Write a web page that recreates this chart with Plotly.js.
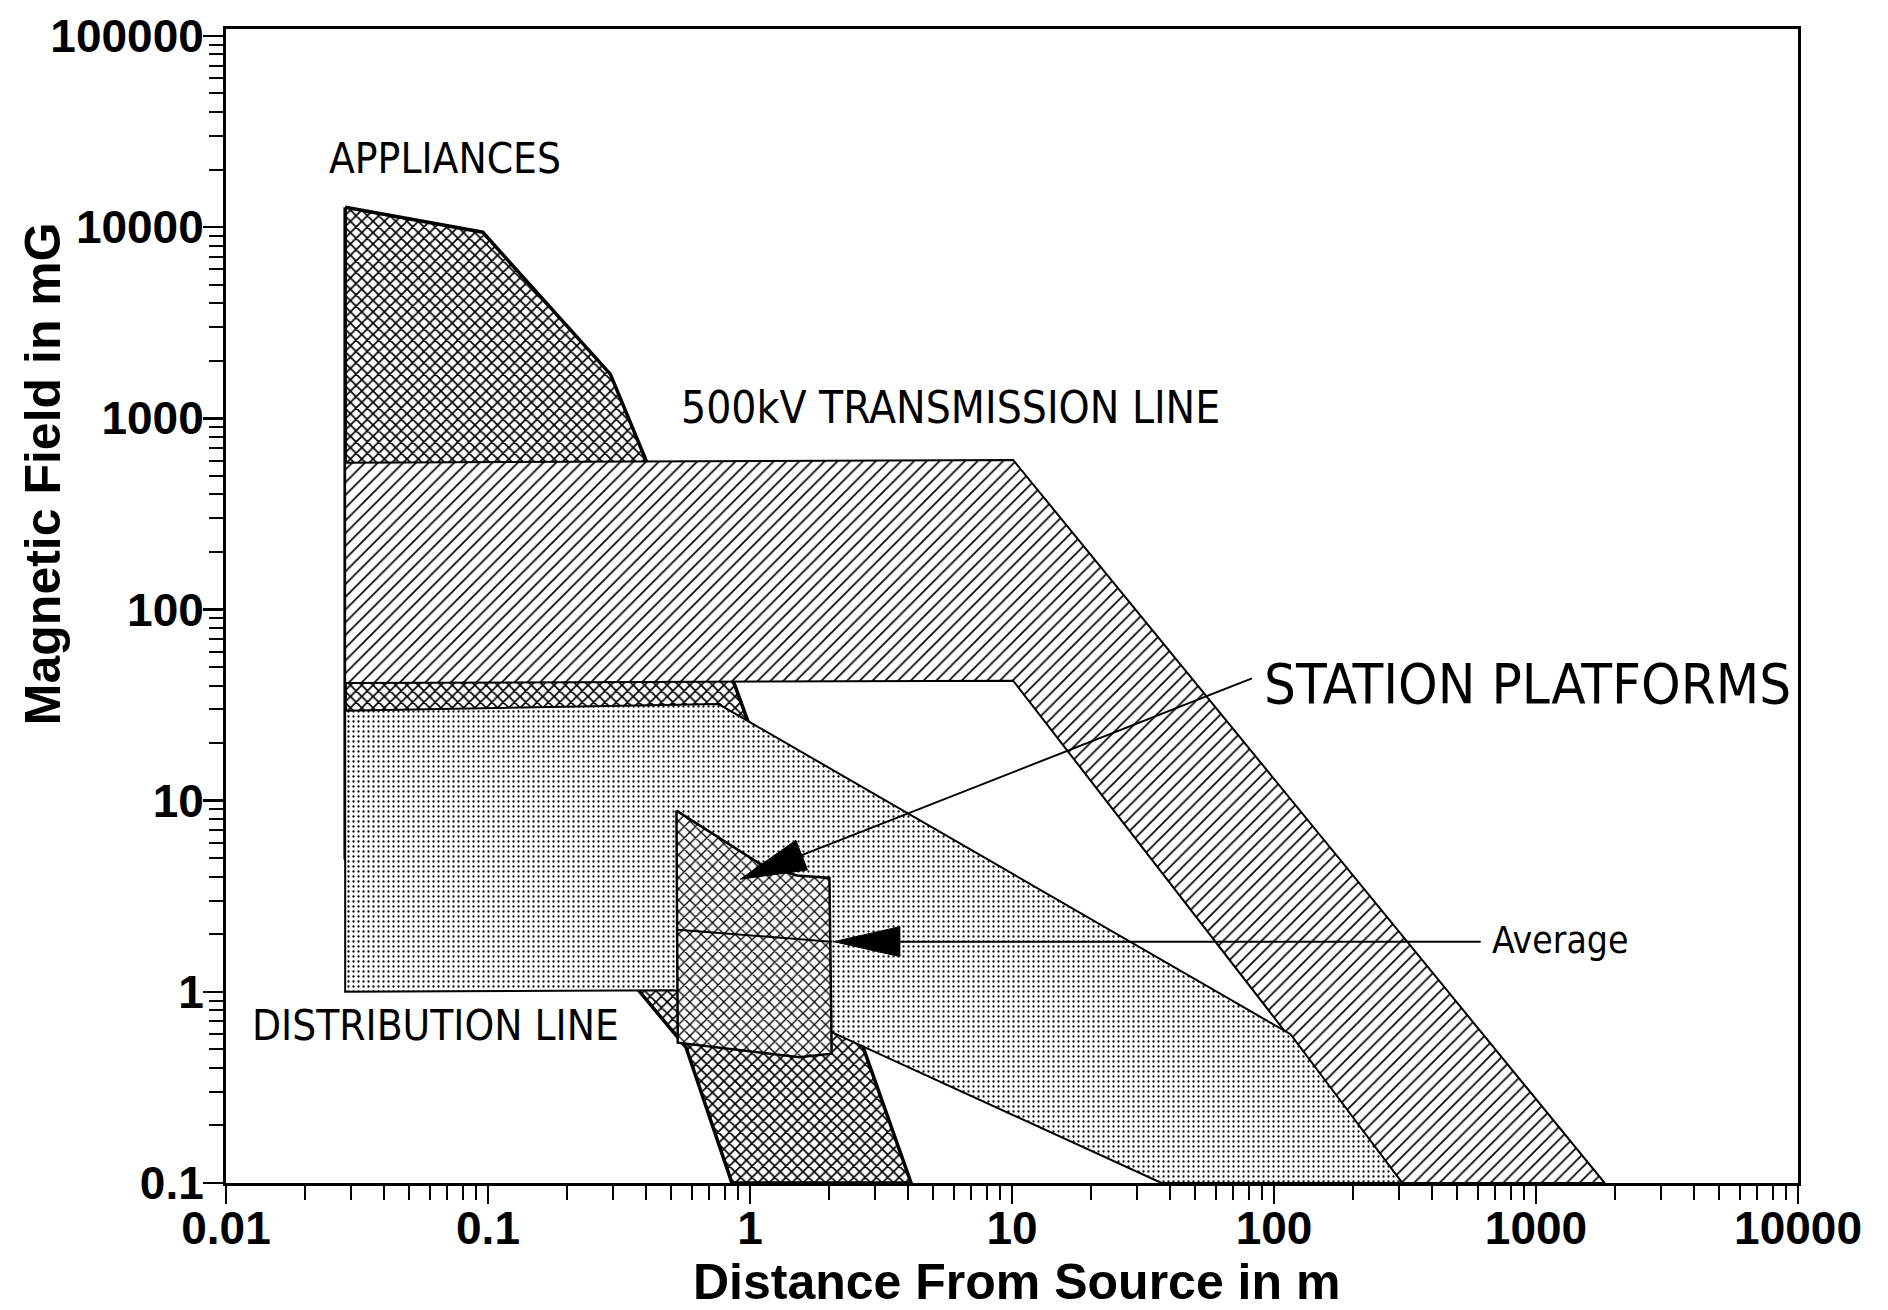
<!DOCTYPE html>
<html><head><meta charset="utf-8">
<script src="https://cdn.plot.ly/plotly-3.0.1.min.js"></script>
<style>html,body{margin:0;padding:0;background:#fff;}#chart{width:1888px;height:1310px;}</style>
</head><body><div id="chart"></div>
<script>
// ---- Data (distance in m, field in mG) ----
const appliancesX = [0.0285, 0.0955, 0.293, 0.403, 0.88, 1.01, 4.12, 0.853, 0.570, 0.373, 0.2, 0.0285, 0.0285];
const appliancesY = [12700, 9400, 1700, 592, 39.4, 23.4, 0.1, 0.1, 0.512, 1.03, 1.5, 5, 12700];
const transmissionX = [0.0285, 10.1, 1828, 309, 10.1, 0.0285, 0.0285];
const transmissionY = [585, 605, 0.1, 0.1, 42.4, 41.2, 585];
const distributionX = [0.0285, 0.758, 115.6, 309, 37.2, 2.09, 0.513, 0.0285, 0.0285];
const distributionY = [29.5, 32, 0.6, 0.1, 0.1, 0.608, 1.02, 1.0, 29.5];
const platformX = [0.524, 1.087, 1.51, 2.01, 2.05, 1.54, 0.530, 0.524];
const platformY = [8.87, 4.69, 4.06, 3.94, 0.475, 0.455, 0.542, 8.87];
const averageX = [0.530, 2.05];
const averageY = [2.11, 1.83];
// arrows: [tail, tip]
const stationArrowX = [82.4, 0.918];
const stationArrowY = [43.6, 3.88];
const averageArrowX = [615, 2.09];
const averageArrowY = [1.83, 1.83];
// labels
const labelText = ['APPLIANCES', '500kV TRANSMISSION LINE', 'STATION PLATFORMS', 'DISTRIBUTION LINE', 'Average'];
const labelX = [0.0687, 5.85, 929, 0.0631, 1236];
const labelY = [22750, 1135, 41.2, 0.664, 1.86];
const labelSize = [42, 44, 56, 42, 37];
const xTickVals = [0.01, 0.1, 1, 10, 100, 1000, 10000];
const xTickText = ['0.01', '0.1', '1', '10', '100', '1000', '10000'];
const yTickVals = [0.1, 1, 10, 100, 1000, 10000, 100000];
const yTickText = ['0.1', '1', '10', '100', '1000', '10000', '100000'];

// ---- Layout geometry ----
const W = 1888, H = 1310;
const M = {l: 226, r: 90, t: 29, b: 127};
const xRange = [-2, 4], yRange = [-1, 5.036];
const pxX = (W - M.l - M.r) / (xRange[1] - xRange[0]);
const pxY = (H - M.t - M.b) / (yRange[1] - yRange[0]);

function arrowParts(ax, ay, len, halfW) {
  const tx = Math.log10(ax[1]) * pxX, ty = -Math.log10(ay[1]) * pxY;
  const sx = Math.log10(ax[0]) * pxX, sy = -Math.log10(ay[0]) * pxY;
  let dx = sx - tx, dy = sy - ty; const L = Math.hypot(dx, dy); dx /= L; dy /= L;
  const bx = tx + dx * len, by = ty + dy * len;
  const toD = (px, py) => [Math.pow(10, px / pxX), Math.pow(10, -py / pxY)];
  const p1 = toD(bx - dy * halfW, by + dx * halfW);
  const p2 = toD(bx + dy * halfW, by - dx * halfW);
  const base = toD(bx - dx * 2, by - dy * 2);
  return {
    line: {x: [ax[0], base[0]], y: [ay[0], base[1]]},
    head: {x: [ax[1], p1[0], p2[0], ax[1]], y: [ay[1], p1[1], p2[1], ay[1]]}
  };
}

function poly(x, y, shape, size, solidity, lw) {
  return {type: 'scatter', mode: 'lines', x: x, y: y, fill: 'toself', fillcolor: 'white',
    fillpattern: {shape: shape, fgcolor: 'black', bgcolor: 'white', size: size, solidity: solidity},
    line: {color: 'black', width: lw}, hoverinfo: 'skip', showlegend: false};
}

const sa = arrowParts(stationArrowX, stationArrowY, 66, 16);
const aa = arrowParts(averageArrowX, averageArrowY, 66, 15);

const traces = [
  poly(appliancesX, appliancesY, 'x', 8, 0.38, 3.5),
  poly(transmissionX, transmissionY, '/', 9, 0.18, 2),
  poly(distributionX, distributionY, '.', 5, 0.16, 2),
  poly(platformX, platformY, 'x', 8, 0.3, 2.5),
  {type: 'scatter', mode: 'lines', x: averageX, y: averageY, line: {color: 'black', width: 2}, showlegend: false, hoverinfo: 'skip'},
  {type: 'scatter', mode: 'lines', x: sa.line.x, y: sa.line.y, line: {color: 'black', width: 2}, showlegend: false, hoverinfo: 'skip'},
  {type: 'scatter', mode: 'lines', x: sa.head.x, y: sa.head.y, fill: 'toself', fillcolor: 'black', line: {color: 'black', width: 1}, showlegend: false, hoverinfo: 'skip'},
  {type: 'scatter', mode: 'lines', x: aa.line.x, y: aa.line.y, line: {color: 'black', width: 2}, showlegend: false, hoverinfo: 'skip'},
  {type: 'scatter', mode: 'lines', x: aa.head.x, y: aa.head.y, fill: 'toself', fillcolor: 'black', line: {color: 'black', width: 1}, showlegend: false, hoverinfo: 'skip'}
];

const labelFont = "'Liberation Sans Narrow', 'DejaVu Sans Condensed', 'Liberation Sans', sans-serif";
const annotations = labelText.map((t, i) => ({
  text: t, x: Math.log10(labelX[i]), y: Math.log10(labelY[i]), xref: 'x', yref: 'y',
  showarrow: false, xanchor: 'center', yanchor: 'middle',
  font: {family: labelFont, size: labelSize[i], color: 'black'}
}));
const titleFont = {family: "'Liberation Sans', Arial, sans-serif", size: 50, color: 'black', weight: 'bold'};
annotations.push({text: 'Distance From Source in m', xref: 'paper', yref: 'paper', x: 0.503, y: -0.086,
  showarrow: false, xanchor: 'center', yanchor: 'middle', font: titleFont});
annotations.push({text: 'Magnetic Field in mG', xref: 'paper', yref: 'paper', x: -0.1165, y: 0.615,
  textangle: -90, showarrow: false, xanchor: 'center', yanchor: 'middle', font: titleFont});

const tickFont = {family: "'Liberation Sans', Arial, sans-serif", size: 46, color: 'black', weight: 'bold'};
const axisCommon = {type: 'log', showgrid: false, zeroline: false, showline: true, linecolor: 'black',
  linewidth: 3, mirror: true, ticks: 'outside', tickwidth: 2.5, tickcolor: 'black', tickfont: tickFont,
  minor: {ticks: 'outside', ticklen: 14, tickwidth: 2, tickcolor: 'black', dtick: 'D1', showgrid: false}};

const layout = {
  width: W, height: H, autosize: false, margin: M,
  paper_bgcolor: 'white', plot_bgcolor: 'white', showlegend: false,
  xaxis: Object.assign({}, axisCommon, {range: xRange, tickvals: xTickVals, ticktext: xTickText, ticklen: 18, ticklabelstandoff: -15}),
  yaxis: Object.assign({}, axisCommon, {range: yRange, tickvals: yTickVals, ticktext: yTickText, ticklen: 20, ticklabelstandoff: -10}),
  annotations: annotations
};

Plotly.newPlot('chart', traces, layout, {staticPlot: true, displayModeBar: false});
</script></body></html>
